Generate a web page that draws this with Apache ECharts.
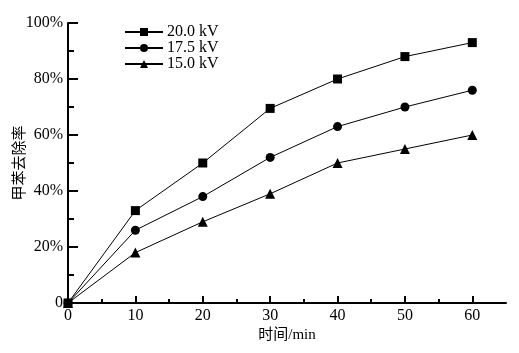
<!DOCTYPE html>
<html>
<head>
<meta charset="utf-8">
<script src="https://cdn.jsdelivr.net/npm/echarts@6/dist/echarts.min.js"></script>
<style>
  html, body { margin: 0; padding: 0; background: #fff; }
  #chart { width: 519px; height: 353px; }
</style>
</head>
<body>
<div id="chart"></div>
<script>
// time (min)
const times = [0, 10, 20, 30, 40, 50, 60];
// toluene removal (%)
const kv200 = [0, 33, 50, 69.5, 80, 88, 93];
const kv175 = [0, 26, 38, 52, 63, 70, 76];
const kv150 = [0, 18, 29, 39, 50, 55, 60];
const seriesNames = ['20.0 kV', '17.5 kV', '15.0 kV'];
const xMajor = [0, 10, 20, 30, 40, 50, 60];
const xMinor = [5, 15, 25, 35, 45, 55];

const font = '"Liberation Serif", "Noto Sans CJK SC", serif';
const chart = echarts.init(document.getElementById('chart'));

function pairs(vals) {
  return times.map((t, i) => [t, vals[i]]);
}

function line(name, vals, symbol, size) {
  return {
    name: name,
    type: 'line',
    data: pairs(vals),
    symbol: symbol,
    symbolSize: size,
    lineStyle: { color: '#000', width: 1 },
    itemStyle: { color: '#000' },
    animation: false
  };
}

chart.setOption({
  backgroundColor: '#fff',
  grid: { left: 68, right: 13, top: 23, bottom: 50, containLabel: false, outerBoundsMode: 'none' },
  legend: {
    left: 124,
    top: 24,
    padding: 0,
    orient: 'vertical',
    itemWidth: 38,
    itemHeight: 10,
    itemGap: 0,
    textStyle: { fontFamily: font, fontSize: 16, lineHeight: 16, color: '#000', padding: [0, 0, 0, -1] },
    data: seriesNames
  },
  xAxis: [{
    type: 'value',
    min: 0,
    max: 65,
    name: '时间/min',
    nameLocation: 'middle',
    nameGap: 25,
    nameMoveOverlap: false,
    nameTextStyle: { fontFamily: font, fontSize: 15, color: '#000' },
    axisLine: { lineStyle: { color: '#000', width: 2 } },
    axisTick: { inside: true, length: 7, customValues: xMajor, lineStyle: { color: '#000', width: 2 } },
    axisLabel: { customValues: xMajor, fontFamily: font, fontSize: 16, color: '#000', margin: 5 },
    splitLine: { show: false }
  }, {
    type: 'value',
    min: 0,
    max: 65,
    position: 'bottom',
    axisLine: { show: false },
    axisTick: { inside: true, length: 4, customValues: xMinor, lineStyle: { color: '#000', width: 2 } },
    axisLabel: { show: false },
    splitLine: { show: false }
  }],
  yAxis: {
    type: 'value',
    min: 0,
    max: 100,
    interval: 20,
    name: '甲苯去除率',
    nameLocation: 'middle',
    nameGap: 40,
    nameMoveOverlap: false,
    nameTextStyle: { fontFamily: font, fontSize: 15, color: '#000' },
    axisLine: { show: true, lineStyle: { color: '#000', width: 2 } },
    axisTick: { show: true, inside: true, length: 10, lineStyle: { color: '#000', width: 2 } },
    minorTick: { show: true, splitNumber: 2, length: 6, lineStyle: { color: '#000', width: 2 } },
    axisLabel: {
      fontFamily: font, fontSize: 16, color: '#000', margin: 5,
      formatter: v => v === 0 ? '0' : v + '%'
    },
    splitLine: { show: false }
  },
  series: [
    line(seriesNames[0], kv200, 'rect', 9),
    line(seriesNames[1], kv175, 'circle', 9),
    line(seriesNames[2], kv150, 'triangle', 10)
  ]
});
</script>
</body>
</html>
